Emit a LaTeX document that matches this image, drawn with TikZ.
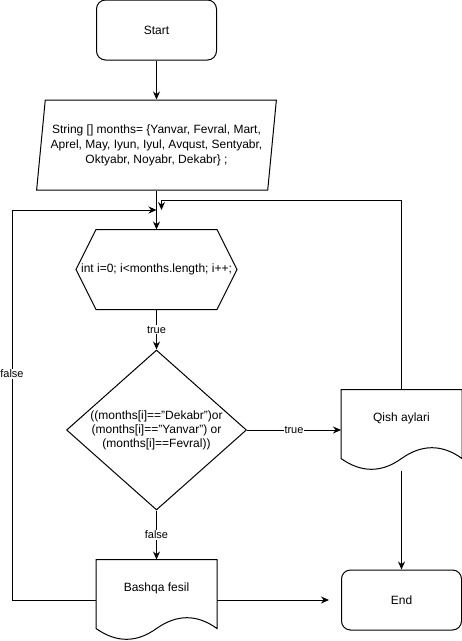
\documentclass[tikz,border=0pt]{standalone}
\usepackage{fontspec}
\setmainfont{Liberation Sans}
\usetikzlibrary{shapes.geometric,arrows.meta,calc}

\tikzset{
  term/.style={draw, rounded corners=9pt, minimum width=120pt, minimum height=60pt},
  lbl/.style={fill=white, inner sep=1pt, font=\fontsize{11}{13}\selectfont}
}

\begin{document}
\begin{tikzpicture}[x=1pt, y=-1pt, line width=1pt, >={Stealth[length=8pt,width=7pt]},
  font=\fontsize{12}{15}\selectfont]
\useasboundingbox (0,0) rectangle (462,641);

\node(start)[term] at (156.5, 30) {Start};
\node(months)[draw, trapezium, trapezium left angle=78.7, trapezium right angle=101.3,
  trapezium stretches=true, minimum width=240pt, minimum height=90pt, inner sep=0pt,
  align=center] at (156.5, 145)
  {String [] months= \{Yanvar, Fevral, Mart,\\Aprel, May, Iyun, Iyul, Avqust, Sentyabr,\\Oktyabr, Noyabr, Dekabr\} ;};
\coordinate(join) at (156.5, 210);
\node(loop)[minimum width=160pt, minimum height=79pt, inner sep=0pt] at (156.5, 269.5)
  {int i=0; i<months.length; i++;};
\node(check)[draw, diamond, aspect=1.125, minimum width=180pt, minimum height=160pt,
  inner sep=0pt, align=center, font=\fontsize{12}{14}\selectfont] at (156.5, 430)
  {((months[i]=="Dekabr")or\\(months[i]=="Yanvar") or\\(months[i]==Fevral))};
\node(winter)[minimum width=120pt, minimum height=56pt] at (401.5, 418) {Qish aylari};
\node(other)[minimum width=120pt, minimum height=56pt] at (156.5, 588) {Bashqa fesil};
\node(fin)[term] at (401.5, 600) {End};

% hexagon of the loop
\draw (loop.west) -- ($(loop.north west)+(20,0)$) -- ($(loop.north east)+(-20,0)$)
  -- (loop.east) -- ($(loop.south east)+(-20,0)$) -- ($(loop.south west)+(20,0)$) -- cycle;

% document shapes
\foreach \d in {winter, other}
  \draw (\d.north west) -- (\d.north east) -- ($(\d.south east)+(0,12)$)
    .. controls ($(\d.south east)+(-20,-2.4)$) and ($(\d.south east)+(-40,-2.4)$) .. ($(\d.south)+(0,12)$)
    .. controls ($(\d.south)+(-20,26.4)$) and ($(\d.south)+(-40,26.4)$) .. ($(\d.south west)+(0,12)$)
    -- cycle;

\draw[->] (start) -- (months);
\draw[->] (months.center |- months.south) -- (loop);
\draw[->] (loop) -- node[lbl]{true} (check);
\draw[->] (check.east) -- node[lbl]{true} (check.east -| winter.west);
\draw[->] (check) -- node[lbl]{false} (other);
\draw[->] ($(winter.south)+(0,24)$) -- (fin);
\draw[->] (other.east |- fin.west) -- ($(fin.west)+(-12,0)$);

\draw[->] (other.west |- fin.west) -| node[lbl, pos=0.79]{false} (12, 210) -- (join);
\draw[->] (winter.north) |- ($(join)+(5,-10)$) -- ($(join)+(5,0)$);
\end{tikzpicture}
\end{document}
